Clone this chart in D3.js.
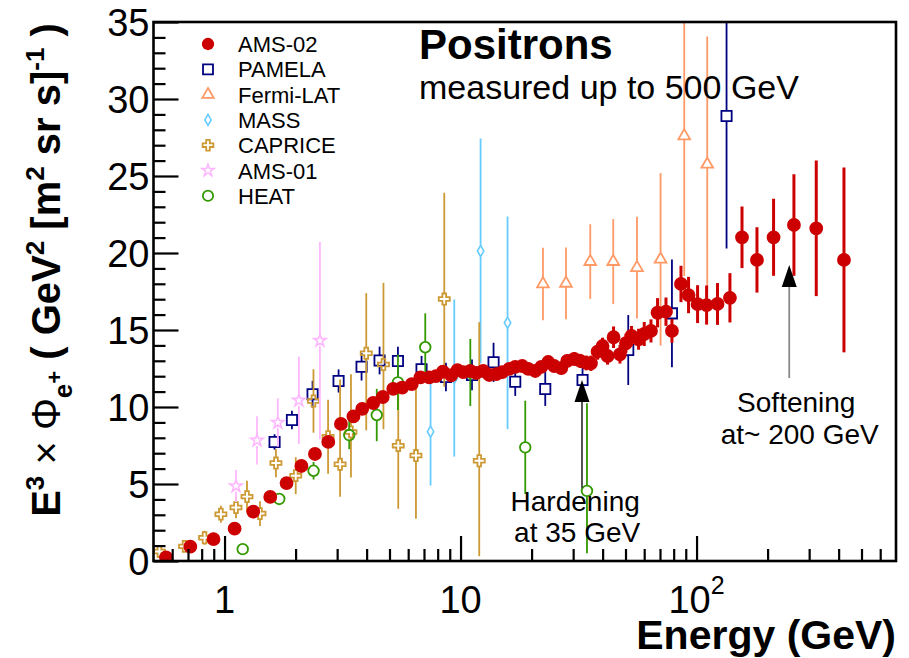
<!DOCTYPE html>
<html><head><meta charset="utf-8">
<script src="https://cdn.jsdelivr.net/npm/d3@7"></script>
<style>
body{margin:0;background:#fff}
svg{display:block}
text{font-family:"Liberation Sans",Arial,Helvetica,sans-serif}
</style>
</head><body>
<svg id="c" width="909" height="658"></svg>
<script>
// ---------------- DATA ----------------
const amsE = [0.565,0.716,0.898,1.103,1.323,1.562,1.831,2.117,2.416,2.751,3.113,3.517,3.832,4.267,4.681,5.186,5.662,6.212,6.763,7.369,7.866,8.423,9.132,9.703,
  10.27,11.0,11.66,12.48,13.23,14.17,15.02,16.09,17.05,18.26,19.36,20.73,21.98,23.53,24.95,26.72,28.32,30.33,32.16,34.10,
  35.69,38.07,39.97,41.97,44.50,47.36,50.21,53.03,56.79,60.03,64.10,68.35,74.20,78.65,
  85.90,92.49,101.0,110.3,122.7,138.5,155.8,180.3,212.0,258.6,321.5,421.3];
const amsV = [0.24,0.93,1.42,2.10,3.21,4.16,5.06,6.17,6.95,7.73,8.90,9.39,9.88,10.26,10.65,11.18,11.26,11.48,11.92,11.92,12.01,12.29,12.06,12.40,
  12.27,12.34,12.21,12.34,12.08,12.14,12.27,12.47,12.60,12.66,12.47,12.34,12.60,12.92,12.66,12.53,12.99,13.12,12.99,12.86,
  12.84,13.59,13.96,13.31,14.53,13.42,14.14,14.61,14.40,14.74,14.94,16.12,16.19,14.94,
  17.99,17.27,16.68,16.62,16.69,17.09,21.02,19.55,21.02,21.82,21.60,19.55];
const amsErr = [0.05,0.05,0.06,0.07,0.08,0.09,0.1,0.1,0.12,0.13,0.14,0.15,0.15,0.16,0.17,0.18,0.19,0.2,0.2,0.21,0.22,0.22,0.23,0.24,
  0.25,0.25,0.26,0.27,0.28,0.29,0.3,0.31,0.32,0.33,0.34,0.35,0.36,0.38,0.39,0.4,0.42,0.44,0.46,0.48,
  0.5,0.52,0.54,0.56,0.7,0.6,0.62,0.65,0.68,0.78,0.75,0.95,0.92,0.77,
  1.18,1.18,1.23,1.27,1.36,1.6,2.0,2.12,2.5,3.3,4.4,6.0];

const pamE = [1.629,1.930,2.360,3.042,3.807,4.538,5.428,6.835,8.672,11.18,13.80,17.05,22.85,32.88,51.35,78.65,134.0];
const pamV = [7.73,9.16,10.83,11.69,12.62,13.02,12.99,12.45,11.95,12.08,12.90,11.64,11.17,11.75,13.70,16.08,28.9];
const pamErr = [0.5,0.6,0.87,0.75,0.9,0.9,0.93,0.87,0.92,1.0,1.27,0.92,1.1,0.9,2.27,3.5,8.6];

const fermiE = [22.35,27.97,35.45,44.36,55.92,70.39,88.69,111.0];
const fermiV = [17.99,18.03,19.44,19.44,19.05,19.59,27.60,25.76];
const fermiErr = [2.35,2.33,2.42,2.76,3.3,5.6,9.1,8.3];

const massE = [7.463,9.404,12.16,15.82];
const massV = [8.40,11.88,20.13,15.47];
const massErr = [3.5,5.1,7.3,6.9];

const capE = [0.530,0.677,0.823,0.965,1.118,1.245,1.413,1.651,2.003,2.381,2.746,3.087,3.433,3.985,4.713,5.445,6.471,8.531,12.0];
const capV = [0.62,0.95,1.51,3.04,3.47,4.18,3.08,6.36,5.54,10.39,8.07,6.28,8.38,13.49,12.76,7.49,6.85,17.01,6.51];
const capErrHi = [0.3,0.3,0.45,0.55,0.7,1.03,0.8,0.92,1.2,2.06,2.4,5.5,3.75,3.9,5.3,4.15,4.6,6.9,9.0];
const capErrLo = [0.3,0.3,0.45,0.55,0.7,1.03,0.8,0.92,1.2,2.06,2.4,2.1,2.96,5.0,4.2,4.1,4.1,5.7,6.2];

const ams01E = [1.118,1.373,1.682,2.065,2.536];
const ams01V = [4.87,7.83,8.99,10.43,14.31];
const ams01Err = [1.04,1.57,1.57,2.84,6.4];

const heatE = [1.194,1.705,2.383,3.376,4.415,5.428,7.087,11.0,18.80,34.33];
const heatV = [0.77,4.03,5.86,8.18,9.48,11.60,13.88,12.24,7.38,4.55];
const heatErrHi = [0.2,0.3,0.57,0.92,1.7,1.8,2.2,2.18,3.03,5.7];
const heatErrLo = [0.2,0.3,0.57,0.92,1.7,1.8,2.2,2.18,3.03,4.05];

const xMajor = [1,10,100];
const xMinor = [0.6,0.7,0.8,0.9,2,3,4,5,6,7,8,9,20,30,40,50,60,70,80,90,200,300,400,500,600];
const xLabels = [{v:1,b:"1"},{v:10,b:"10"},{v:100,b:"10",e:"2"}];
const yMajor = [0,5,10,15,20,25,30,35];
const yMinor = d3.range(0,36).filter(v=>v%5!==0);

const legendNames = ["AMS-02","PAMELA","Fermi-LAT","MASS","CAPRICE","AMS-01","HEAT"];

const arrows = [ {e:32.7, tip:11.75, tail:4.72, col:"#444"}, {e:247, tip:19.22, tail:11.88, col:"#888"} ];
const notes = [ {e:30.6,v:3.27,t:"Hardening"},{e:31.2,v:1.25,t:"at 35 GeV"},
                {e:264.6,v:9.69,t:"Softening"},{e:273.7,v:7.6,t:"at~ 200 GeV"} ];

// ---------------- CHART ----------------
const L=153.5, R=896, T=22, B=561;
const svg = d3.select("#c");
const x = d3.scaleLog().domain([0.5,700]).range([L,R]);
const y = d3.scaleLinear().domain([0,35]).range([B,T]);

svg.append("defs").append("clipPath").attr("id","clip")
  .append("rect").attr("x",L).attr("y",T).attr("width",R-L).attr("height",B-T);

const series = [
  {name:"AMS-02", E:amsE, V:amsV, hi:amsErr, lo:amsErr, col:"#cc0000", sym:d3.symbolCircle, size:150, fill:true, sw:3, up:0, dn:0},
  {name:"PAMELA", E:pamE, V:pamV, hi:pamErr, lo:pamErr, col:"#000080", sym:d3.symbolSquare, size:105, fill:false, sw:1.8, up:5.2, dn:5.2},
  {name:"Fermi-LAT", E:fermiE, V:fermiV, hi:fermiErr, lo:fermiErr, col:"#ff9966", sym:d3.symbolTriangle, size:60, fill:false, sw:1.8, up:6.8, dn:3.4},
  {name:"MASS", E:massE, V:massV, hi:massErr, lo:massErr, col:"#66ccff", sym:d3.symbolDiamond, size:36, fill:false, sw:1.6, up:5.6, dn:5.6},
  {name:"CAPRICE", E:capE, V:capV, hi:capErrHi, lo:capErrLo, col:"#cc9933", sym:d3.symbolCross, size:68, fill:false, sw:1.8, up:5.5, dn:5.5},
  {name:"AMS-01", E:ams01E, V:ams01V, hi:ams01Err, lo:ams01Err, col:"#ffb8ff", sym:d3.symbolStar, size:48, fill:false, sw:1.6, up:6.5, dn:5.5},
  {name:"HEAT", E:heatE, V:heatV, hi:heatErrHi, lo:heatErrLo, col:"#339900", sym:d3.symbolCircle, size:88, fill:false, sw:1.8, up:5.3, dn:5.3}
];

const plot = svg.append("g").attr("clip-path","url(#clip)");
const order = [1,2,3,4,5,6,0];
order.forEach(i=>{
  const s = series[i];
  const g = plot.append("g");
  const pts = s.E.map((e,k)=>({e, v:s.V[k], hi:s.hi[k], lo:s.lo[k]}));
  pts.forEach(p=>{
    const cx=x(p.e), cy=y(p.v), yt=y(p.v+p.hi), yb=y(p.v-p.lo);
    if (cy - s.up > yt) g.append("line").attr("x1",cx).attr("x2",cx).attr("y1",yt).attr("y2",cy-s.up)
      .attr("stroke",s.col).attr("stroke-width",s.fill?3:1.8);
    if (cy + s.dn < yb) g.append("line").attr("x1",cx).attr("x2",cx).attr("y1",cy+s.dn).attr("y2",yb)
      .attr("stroke",s.col).attr("stroke-width",s.fill?3:1.8);
  });
  g.selectAll("path.m").data(pts).join("path").attr("class","m")
    .attr("d", d3.symbol(s.sym, s.size))
    .attr("transform", p=>`translate(${x(p.e)},${y(p.v)})`)
    .attr("fill", s.fill? s.col : "none")
    .attr("stroke", s.fill? "none" : s.col)
    .attr("stroke-width", s.sw);
});

// arrows
arrows.forEach(a=>{
  const ax=x(a.e), yt=y(a.tip), yb=y(a.tail);
  svg.append("line").attr("x1",ax).attr("x2",ax).attr("y1",yt+20).attr("y2",yb)
    .attr("stroke",a.col).attr("stroke-width",1.8);
  svg.append("path").attr("d",`M${ax},${yt} L${ax-7.5},${yt+22} L${ax+7.5},${yt+22} Z`).attr("fill","#000");
});
notes.forEach(n=>{
  svg.append("text").attr("x",x(n.e)).attr("y",y(n.v)).attr("text-anchor","middle")
    .attr("font-size",28).attr("fill","#000").text(n.t);
});

// axes
const axG = svg.append("g");
axG.append("g").attr("transform",`translate(0,${B})`)
  .call(d3.axisTop(x).tickValues(xMajor).tickSize(25).tickFormat(""));
axG.append("g").attr("transform",`translate(0,${B})`)
  .call(d3.axisTop(x).tickValues(xMinor).tickSize(12).tickFormat(""));
axG.append("g").attr("transform",`translate(${L},0)`)
  .call(d3.axisRight(y).tickValues(yMajor).tickSize(25).tickFormat(""));
axG.append("g").attr("transform",`translate(${L},0)`)
  .call(d3.axisRight(y).tickValues(yMinor).tickSize(12).tickFormat(""));
axG.selectAll(".domain").remove();
axG.selectAll(".tick line").attr("stroke","#000").attr("stroke-width",2.2);

svg.append("rect").attr("x",L).attr("y",T).attr("width",R-L).attr("height",B-T)
  .attr("fill","none").attr("stroke","#000").attr("stroke-width",2.6);

// tick labels
yMajor.forEach(v=>{
  svg.append("text").attr("x",L-4).attr("y",y(v)+14).attr("text-anchor","end")
    .attr("font-size",38).text(v);
});
xLabels.forEach(l=>{
  const t = svg.append("text").attr("x",x(l.v)).attr("y",613).attr("text-anchor","middle").attr("font-size",38);
  t.append("tspan").text(l.b);
  if (l.e) t.append("tspan").attr("font-size",25).attr("dy",-19).text(l.e);
});

// axis titles
svg.append("text").attr("x",R).attr("y",649).attr("text-anchor","end")
  .attr("font-size",41).attr("font-weight","bold").text("Energy (GeV)");

const parts = [
  {t:"E"},{t:"3",o:-16,fs:26},{t:" × ",w:"normal"},{t:"Φ",w:"normal"},{t:"e",o:12,fs:26},{t:"+",o:2,fs:22},
  {t:" ( GeV"},{t:"2",o:-16,fs:26},{t:" [m"},{t:"2",o:-16,fs:26},{t:" sr s]"},{t:"-1",o:-16,fs:26},{t:" )"}
];
const yt = svg.append("text").attr("transform","translate(60,270) rotate(-90)")
  .attr("text-anchor","middle").attr("font-size",40).attr("font-weight","bold");
let cur=0;
parts.forEach(p=>{
  const o = p.o||0;
  const ts = yt.append("tspan").attr("dy",o-cur).text(p.t);
  if (p.fs) ts.attr("font-size",p.fs);
  if (p.w) ts.attr("font-weight",p.w);
  cur=o;
});

// title
svg.append("text").attr("x",419).attr("y",59).attr("font-size",42).attr("font-weight","bold").text("Positrons");
svg.append("text").attr("x",419).attr("y",99).attr("font-size",34).text("measured up to 500 GeV");

// legend
series.forEach((s,i)=>{
  const cy = 44 + 25.3*i;
  svg.append("path").attr("d",d3.symbol(s.sym, s.fill? 120 : s.size*0.95)())
    .attr("transform",`translate(208,${cy})`)
    .attr("fill", s.fill? s.col:"none").attr("stroke", s.fill?"none":s.col).attr("stroke-width",s.sw);
  svg.append("text").attr("x",238).attr("y",cy+8).attr("font-size",22).text(legendNames[i]);
});
</script>
</body></html>
